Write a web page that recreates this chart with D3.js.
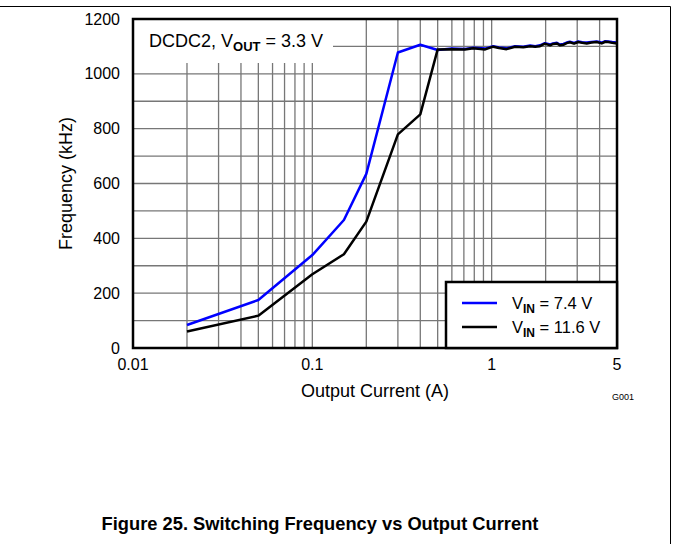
<!DOCTYPE html>
<html>
<head>
<meta charset="utf-8">
<script src="https://cdn.jsdelivr.net/npm/d3@7"></script>
<style>
  body { margin: 0; background: #fff; }
  text { font-family: "Liberation Sans", Arial, sans-serif; }
</style>
</head>
<body>
<svg id="chart"></svg>
<script>
// values
var current74 = [0.02, 0.05, 0.1, 0.15, 0.2, 0.3, 0.4, 0.5, 0.6, 0.71, 0.79, 0.92, 1.02, 1.1, 1.21, 1.35, 1.5, 1.64, 1.75, 1.86, 1.98, 2.12, 2.2, 2.31, 2.4, 2.51, 2.62, 2.73, 2.88, 3.04, 3.2, 3.39, 3.6, 3.85, 4.11, 4.3, 4.47, 4.7, 5];
var freq74 = [84, 175, 339, 467, 635, 1078, 1106, 1087, 1092, 1091, 1095, 1092, 1101, 1096, 1093, 1101, 1099, 1103, 1101, 1104, 1112, 1107, 1111, 1113, 1107, 1109, 1114, 1117, 1113, 1118, 1115, 1114, 1116, 1118, 1114, 1119, 1118, 1116, 1114];

var current116 = [0.02, 0.05, 0.1, 0.15, 0.2, 0.3, 0.4, 0.5, 0.6, 0.71, 0.79, 0.92, 1.02, 1.1, 1.21, 1.35, 1.5, 1.64, 1.75, 1.86, 1.98, 2.12, 2.2, 2.31, 2.4, 2.51, 2.62, 2.73, 2.88, 3.04, 3.2, 3.39, 3.6, 3.85, 4.11, 4.3, 4.47, 4.7, 5];
var freq116 = [60, 118, 269, 342, 461, 779, 852, 1089, 1090, 1089, 1093, 1089, 1099, 1094, 1090, 1099, 1097, 1101, 1099, 1101, 1110, 1104, 1109, 1111, 1104, 1106, 1112, 1115, 1110, 1116, 1113, 1111, 1114, 1116, 1111, 1117, 1116, 1113, 1111];

var xTickLabels = [0.01, 0.1, 1, 5];
var yTickLabels = [0, 200, 400, 600, 800, 1000, 1200];
var yGrid = [100, 200, 300, 400, 500, 600, 700, 800, 900, 1000, 1100];

var W = 673, H = 544;
var margin = { top: 19, right: 56, bottom: 196, left: 133 },
    width = W - margin.left - margin.right,
    height = H - margin.top - margin.bottom;

var svg = d3.select("#chart")
    .attr("width", W)
    .attr("height", H);

// page frame lines
svg.append("line")
    .attr("x1", 0).attr("x2", 670.5).attr("y1", 6.5).attr("y2", 6.5)
    .attr("stroke", "#000").attr("stroke-width", 1);
svg.append("line")
    .attr("x1", 670.5).attr("x2", 670.5).attr("y1", 6.5).attr("y2", H)
    .attr("stroke", "#000").attr("stroke-width", 1);

var g = svg.append("g")
    .attr("transform", "translate(" + margin.left + "," + margin.top + ")");

var x = d3.scaleLog()
    .domain([0.01, 5])
    .range([0, width]);

var y = d3.scaleLinear()
    .domain([0, 1200])
    .range([height, 0]);

// grid
var xGrid = x.ticks().filter(function(d) { return d > 0.01 && d < 5; });

g.selectAll(".vgrid")
    .data(xGrid)
    .enter().append("line")
    .attr("class", "vgrid")
    .attr("x1", function(d) { return x(d); })
    .attr("x2", function(d) { return x(d); })
    .attr("y1", 0)
    .attr("y2", height)
    .attr("stroke", "#777")
    .attr("stroke-width", 1.3);

g.selectAll(".hgrid")
    .data(yGrid)
    .enter().append("line")
    .attr("class", "hgrid")
    .attr("x1", 0)
    .attr("x2", width)
    .attr("y1", function(d) { return y(d); })
    .attr("y2", function(d) { return y(d); })
    .attr("stroke", "#777")
    .attr("stroke-width", 1.3);

// series
var line = d3.line()
    .x(function(d) { return x(d[0]); })
    .y(function(d) { return y(d[1]); });

g.append("path")
    .datum(d3.zip(current74, freq74))
    .attr("d", line)
    .attr("fill", "none")
    .attr("stroke", "#0000ff")
    .attr("stroke-width", 2.5)
    .attr("stroke-linejoin", "round");

g.append("path")
    .datum(d3.zip(current116, freq116))
    .attr("d", line)
    .attr("fill", "none")
    .attr("stroke", "#000")
    .attr("stroke-width", 2.5)
    .attr("stroke-linejoin", "round");

// annotation
g.append("rect")
    .attr("x", 1)
    .attr("y", 1)
    .attr("width", 199)
    .attr("height", 43)
    .attr("fill", "#fff");

var ann = g.append("text")
    .attr("x", 16)
    .attr("y", 28)
    .style("font-size", "18px");
ann.append("tspan").text("DCDC2, V");
ann.append("tspan").attr("dy", 4).style("font-size", "13px").style("font-weight", "bold").text("OUT");
ann.append("tspan").attr("dy", -4).text(" = 3.3 V");

// frame
g.append("rect")
    .attr("width", width)
    .attr("height", height)
    .attr("fill", "none")
    .attr("stroke", "#000")
    .attr("stroke-width", 2.5);

// tick labels
g.selectAll(".ylab")
    .data(yTickLabels)
    .enter().append("text")
    .attr("x", -13)
    .attr("y", function(d) { return y(d); })
    .attr("dy", "0.35em")
    .attr("text-anchor", "end")
    .style("font-size", "16px")
    .text(function(d) { return d; });

g.selectAll(".xlab")
    .data(xTickLabels)
    .enter().append("text")
    .attr("x", function(d) { return x(d); })
    .attr("y", height + 22)
    .attr("text-anchor", "middle")
    .style("font-size", "16px")
    .text(function(d) { return d; });

// axis titles
g.append("text")
    .attr("x", width / 2)
    .attr("y", height + 49)
    .attr("text-anchor", "middle")
    .style("font-size", "18px")
    .text("Output Current (A)");

g.append("text")
    .attr("transform", "translate(-61," + (height / 2) + ") rotate(-90)")
    .attr("text-anchor", "middle")
    .style("font-size", "18px")
    .text("Frequency (kHz)");

svg.append("text")
    .attr("x", 634)
    .attr("y", 400)
    .attr("text-anchor", "end")
    .style("font-size", "9px")
    .text("G001");

// legend
var lg = g.append("g")
    .attr("transform", "translate(" + (width - 171) + "," + (height - 66) + ")");

lg.append("rect")
    .attr("width", 171)
    .attr("height", 66)
    .attr("fill", "#fff")
    .attr("stroke", "#000")
    .attr("stroke-width", 2.5);

var legendItems = [
    { color: "#0000ff", value: " = 7.4 V" },
    { color: "#000", value: " = 11.6 V" }
];

legendItems.forEach(function(d, i) {
    var yy = 21 + i * 24;
    lg.append("line")
        .attr("x1", 16).attr("x2", 51)
        .attr("y1", yy).attr("y2", yy)
        .attr("stroke", d.color)
        .attr("stroke-width", 2.5);
    var t = lg.append("text")
        .attr("x", 66)
        .attr("y", yy + 6)
        .style("font-size", "16.5px");
    t.append("tspan").text("V");
    t.append("tspan").attr("dy", 4).style("font-size", "12px").style("font-weight", "bold").text("IN");
    t.append("tspan").attr("dy", -4).text(d.value);
});

// caption
svg.append("text")
    .attr("x", 320)
    .attr("y", 530)
    .attr("text-anchor", "middle")
    .style("font-size", "18.3px")
    .style("font-weight", "bold")
    .text("Figure 25. Switching Frequency vs Output Current");
</script>
</body>
</html>
